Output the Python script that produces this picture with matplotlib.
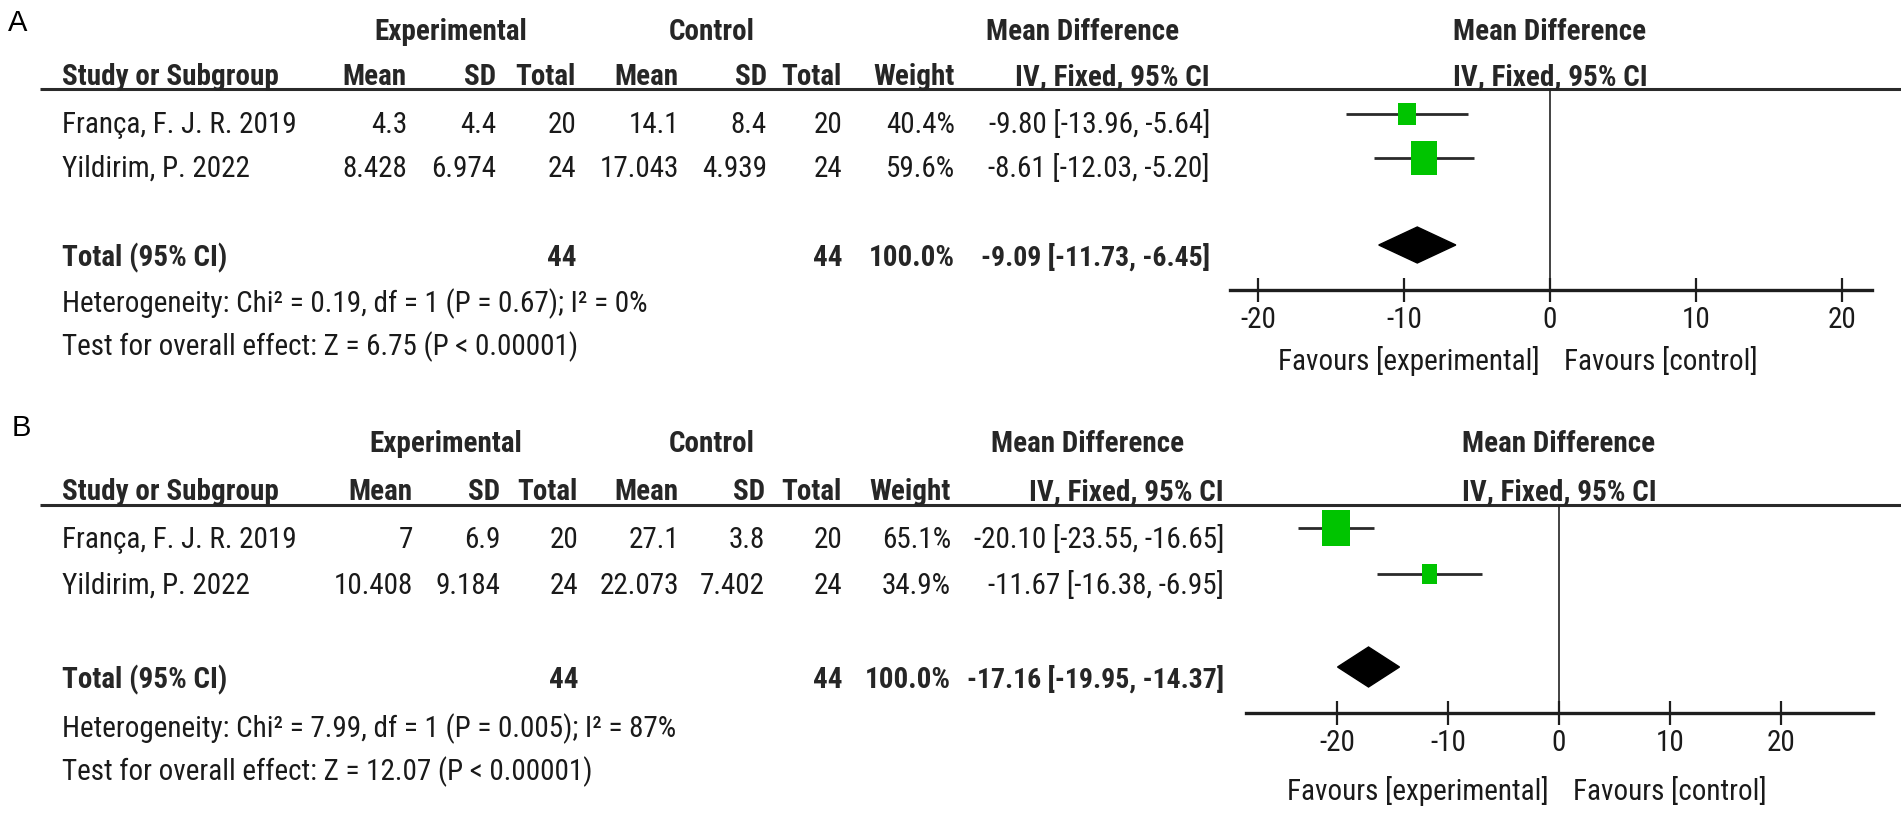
import matplotlib
matplotlib.use("Agg")
import matplotlib.pyplot as plt
from matplotlib import font_manager
from matplotlib.patches import Rectangle, Polygon

# ---------------- data ----------------
studies = ["França, F. J. R. 2019", "Yildirim, P. 2022"]
ticks = [-20, -10, 0, 10, 20]

# Panel A
a_exp_mean = [4.3, 8.428]
a_exp_sd = [4.4, 6.974]
a_exp_n = [20, 24]
a_ctl_mean = [14.1, 17.043]
a_ctl_sd = [8.4, 4.939]
a_ctl_n = [20, 24]
a_weight = [40.4, 59.6]
a_md = [-9.80, -8.61]
a_lo = [-13.96, -12.03]
a_hi = [-5.64, -5.20]
a_total = [-9.09, -11.73, -6.45]
a_het = ["0.19", "1", "0.67", "0"]
a_test = ["6.75", "< 0.00001"]

# Panel B
b_exp_mean = [7, 10.408]
b_exp_sd = [6.9, 9.184]
b_exp_n = [20, 24]
b_ctl_mean = [27.1, 22.073]
b_ctl_sd = [3.8, 7.402]
b_ctl_n = [20, 24]
b_weight = [65.1, 34.9]
b_md = [-20.10, -11.67]
b_lo = [-23.55, -16.38]
b_hi = [-16.65, -6.95]
b_total = [-17.16, -19.95, -14.37]
b_het = ["7.99", "1", "0.005", "87"]
b_test = ["12.07", "< 0.00001"]

# ---------------- fonts ----------------
names = {f.name for f in font_manager.fontManager.ttflist}
NARROW = None
for cand in ["Liberation Sans Narrow", "Roboto Condensed", "DejaVu Sans Condensed"]:
    if cand in names:
        NARROW = cand
        break
if NARROW is None:
    NARROW = "Liberation Sans"
plt.rcParams["axes.unicode_minus"] = False
FS = 21
TXT = "#1a1a1a"
HDR = "#262626"
GREEN = "#00C400"

fig = plt.figure(figsize=(19.01, 8.16), dpi=100)
bg = fig.add_axes([0, 0, 1, 1])
bg.set_xlim(0, 1901)
bg.set_ylim(816, 0)
bg.axis("off")


def t(x, y, s, ha="right", bold=False, size=FS, family=None, color=None):
    bg.text(x, y, s, ha=ha, va="baseline", fontsize=size,
            family=family or NARROW, fontweight="bold" if bold else "normal",
            color=color or (HDR if bold else TXT))


def fmt(v):
    return f"{v:g}"


def panel(lay, exp_mean, exp_sd, exp_n, ctl_mean, ctl_sd, ctl_n, weight,
          md, lo, hi, total, het, test):
    c = lay["cols"]
    # panel label
    t(lay["label_x"], lay["label_y"], lay["label"], ha="left", size=21,
      family="Liberation Sans", color="#000000")
    # group headers
    gy = lay["group_y"]
    t(c["exp_c"], gy, "Experimental", ha="center", bold=True)
    t(c["ctl_c"], gy, "Control", ha="center", bold=True)
    t(c["md_c"], gy, "Mean Difference", ha="center", bold=True)
    t(lay["zero_px"], gy, "Mean Difference", ha="center", bold=True)
    # column headers
    hy = lay["hdr_y"]
    t(62, hy, "Study or Subgroup", ha="left", bold=True)
    t(c["em"], hy, "Mean", bold=True)
    t(c["es"], hy, "SD", bold=True)
    t(c["en"], hy, "Total", bold=True)
    t(c["cm"], hy, "Mean", bold=True)
    t(c["cs"], hy, "SD", bold=True)
    t(c["cn"], hy, "Total", bold=True)
    t(c["w"], hy, "Weight", bold=True)
    t(c["ci"], hy, "IV, Fixed, 95% CI", bold=True)
    t(lay["zero_px"], hy, "IV, Fixed, 95% CI", ha="center", bold=True)
    bg.plot([40, 1901], [lay["top"], lay["top"]], color="#2a2a2a", lw=2.2,
            solid_capstyle="butt")
    # study rows
    for i, name in enumerate(studies):
        y = lay["row_y"][i]
        t(62, y, name, ha="left")
        t(c["em"], y, fmt(exp_mean[i]))
        t(c["es"], y, fmt(exp_sd[i]))
        t(c["en"], y, str(exp_n[i]))
        t(c["cm"], y, fmt(ctl_mean[i]))
        t(c["cs"], y, fmt(ctl_sd[i]))
        t(c["cn"], y, str(ctl_n[i]))
        t(c["w"], y, f"{weight[i]:.1f}%")
        t(c["ci"], y, f"{md[i]:.2f} [{lo[i]:.2f}, {hi[i]:.2f}]")
    ty = lay["total_y"]
    t(62, ty, "Total (95% CI)", ha="left", bold=True)
    t(c["en"], ty, str(sum(exp_n)), bold=True)
    t(c["cn"], ty, str(sum(ctl_n)), bold=True)
    t(c["w"], ty, f"{sum(weight):.1f}%", bold=True)
    t(c["ci"], ty, f"{total[0]:.2f} [{total[1]:.2f}, {total[2]:.2f}]", bold=True,
      size=20)
    t(62, lay["het_y"],
      f"Heterogeneity: Chi² = {het[0]}, df = {het[1]} (P = {het[2]}); I² = {het[3]}%",
      ha="left")
    t(62, lay["test_y"],
      f"Test for overall effect: Z = {test[0]} (P {test[1]})", ha="left")

    # ---------- forest axes ----------
    zp, ppu = lay["zero_px"], lay["ppu"]
    L, R, top, bot = lay["ax_left"], lay["ax_right"], lay["top"], lay["axis_y"]
    ax = fig.add_axes([L / 1901, 1 - bot / 816, (R - L) / 1901, (bot - top) / 816])
    ax.set_facecolor("none")
    ax.set_xlim((L - zp) / ppu, (R - zp) / ppu)
    ax.set_ylim(bot, top)
    for s in ["top", "left", "right"]:
        ax.spines[s].set_visible(False)
    ax.spines["bottom"].set_linewidth(2.4)
    ax.spines["bottom"].set_color("#1e1e1e")
    ax.set_yticks([])
    ax.set_xticks(ticks)
    ax.set_xticklabels([str(v) for v in ticks], family=NARROW, fontsize=FS,
                       color=TXT)
    ax.tick_params(axis="x", direction="inout", length=17, width=1.6,
                   color="#1e1e1e", pad=3)
    ax.axvline(0, color="#222222", lw=1.2, zorder=1)
    for i in range(len(md)):
        y = lay["mark_y"][i]
        ax.plot([lo[i], hi[i]], [y, y], color="#2a2a2a", lw=2.0, zorder=2,
                solid_capstyle="butt")
        w = 0.43 * weight[i] / ppu
        h = 0.56 * weight[i]
        ax.add_patch(Rectangle((md[i] - w / 2, y - h / 2), w, h,
                               facecolor=GREEN, edgecolor="none", zorder=3))
    dy = lay["dia_y"]
    dh = lay["dia_h"] / 2
    ax.add_patch(Polygon([(total[1], dy), (total[0], dy - dh), (total[2], dy),
                          (total[0], dy + dh)], closed=True,
                         facecolor="black", edgecolor="black", zorder=3))
    fy = lay["fav_y"]
    t(zp - 10, fy, "Favours [experimental]", ha="right")
    t(zp + 14, fy, "Favours [control]", ha="left")


layA = dict(label="A", label_x=8, label_y=31, group_y=40, hdr_y=85, top=89,
            row_y=[133, 177], mark_y=[114, 158], total_y=266, dia_y=245, dia_h=36,
            het_y=312, test_y=355, axis_y=290, fav_y=370,
            zero_px=1550, ppu=14.6, ax_left=1230, ax_right=1872,
            cols=dict(exp_c=451, ctl_c=712, md_c=1083, em=407, es=496, en=576,
                      cm=679, cs=767, cn=842, w=955, ci=1210))
layB = dict(label="B", label_x=12, label_y=436, group_y=452, hdr_y=500, top=505,
            row_y=[548, 594], mark_y=[528, 574], total_y=688, dia_y=667, dia_h=40,
            het_y=737, test_y=780, axis_y=713, fav_y=800,
            zero_px=1559, ppu=11.1, ax_left=1246, ax_right=1873,
            cols=dict(exp_c=446, ctl_c=712, md_c=1088, em=413, es=500, en=578,
                      cm=679, cs=765, cn=842, w=951, ci=1224))

panel(layA, a_exp_mean, a_exp_sd, a_exp_n, a_ctl_mean, a_ctl_sd, a_ctl_n,
      a_weight, a_md, a_lo, a_hi, a_total, a_het, a_test)
panel(layB, b_exp_mean, b_exp_sd, b_exp_n, b_ctl_mean, b_ctl_sd, b_ctl_n,
      b_weight, b_md, b_lo, b_hi, b_total, b_het, b_test)

fig.savefig("out.png", dpi=100, facecolor="white")
